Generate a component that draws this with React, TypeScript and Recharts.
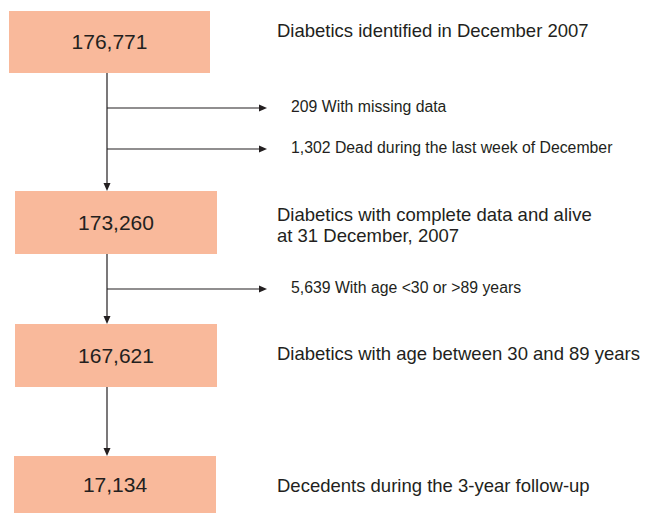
import {
  ComposedChart,
  ReferenceArea,
  ReferenceLine,
  Scatter,
  XAxis,
  YAxis,
} from "recharts";

// flow data
const stageCounts = [176771, 173260, 167621, 17134];
const stageLabels = [
  ["Diabetics identified in December 2007"],
  ["Diabetics with complete data and alive", "at 31 December, 2007"],
  ["Diabetics with age between 30 and 89 years"],
  ["Decedents during the 3-year follow-up"],
];
const exclusionCounts = [209, 1302, 5639];
const exclusionLabels = [
  "With missing data",
  "Dead during the last week of December",
  "With age <30 or >89 years",
];

// layout, in chart units (x 0..646, y 0..513 top-down)
const boxLeft = [9, 15, 15, 14];
const boxRight = [210, 217, 217, 216];
const boxTop = [11, 191, 324, 456];
const boxBottom = [73, 254, 387, 513];
const labelBaseline = [37, 221, 360, 492];
const exclusionRow = [108, 149, 289];
const spineX = 107;
const arrowEndX = 267;
const labelX = 277;
const noteX = 291;

const ink = "#231f20";
const boxFill = "#f9b99b";

const fmt = (n: number) => n.toLocaleString("en-US");

const labelPoints = stageLabels.map((lines, i) => ({ x: labelX, y: labelBaseline[i], lines }));
const notePoints = exclusionCounts.map((c, i) => ({
  x: noteX,
  y: exclusionRow[i] + 4,
  lines: [`${fmt(c)} ${exclusionLabels[i]}`],
}));
const downTips = boxTop.slice(1).map((t) => ({ x: spineX, y: t, dir: "down" }));
const rightTips = exclusionRow.map((r) => ({ x: arrowEndX, y: r, dir: "right" }));

function TextShape(size: number) {
  return (p: any) => (
    <text x={p.cx} y={p.cy} fontSize={size} fill={ink}>
      {p.payload.lines.map((l: string, k: number) => (
        <tspan key={k} x={p.cx} dy={k === 0 ? 0 : size * 1.14}>
          {l}
        </tspan>
      ))}
    </text>
  );
}

function ArrowHead(p: any) {
  const { cx, cy } = p;
  const pts =
    p.payload.dir === "down"
      ? `${cx - 3.5},${cy - 8} ${cx + 3.5},${cy - 8} ${cx},${cy}`
      : `${cx - 8},${cy - 3.5} ${cx - 8},${cy + 3.5} ${cx},${cy}`;
  return <polygon points={pts} fill={ink} />;
}

export default function App() {
  return (
    <div
      style={{
        position: "absolute",
        left: 0,
        top: 0,
        width: 646,
        height: 513,
        background: "#fff",
        fontFamily: "'Liberation Sans', Arial, sans-serif",
      }}
    >
      <ComposedChart width={646} height={513} margin={{ top: 0, right: 0, bottom: 0, left: 0 }}>
        <XAxis type="number" dataKey="x" domain={[0, 646]} hide allowDataOverflow />
        <YAxis type="number" dataKey="y" domain={[0, 513]} reversed hide allowDataOverflow />

        {stageCounts.map((c, i) => (
          <ReferenceArea
            key={c}
            x1={boxLeft[i]}
            x2={boxRight[i]}
            y1={boxTop[i]}
            y2={boxBottom[i]}
            fill={boxFill}
            fillOpacity={1}
            stroke="none"
            ifOverflow="visible"
            label={{ value: fmt(c), position: "center", fontSize: 21, fill: ink }}
          />
        ))}

        {boxBottom.slice(0, 3).map((b, i) => (
          <ReferenceLine
            key={`v${i}`}
            segment={[
              { x: spineX, y: b },
              { x: spineX, y: boxTop[i + 1] - 6 },
            ]}
            stroke={ink}
            strokeWidth={1.2}
            ifOverflow="visible"
          />
        ))}
        {exclusionRow.map((r, i) => (
          <ReferenceLine
            key={`h${i}`}
            segment={[
              { x: spineX, y: r },
              { x: arrowEndX - 6, y: r },
            ]}
            stroke={ink}
            strokeWidth={1.2}
            ifOverflow="visible"
          />
        ))}

        <Scatter data={[...downTips, ...rightTips]} shape={ArrowHead} isAnimationActive={false} />
        <Scatter data={labelPoints} shape={TextShape(18.5)} isAnimationActive={false} />
        <Scatter data={notePoints} shape={TextShape(15.8)} isAnimationActive={false} />
      </ComposedChart>
    </div>
  );
}
